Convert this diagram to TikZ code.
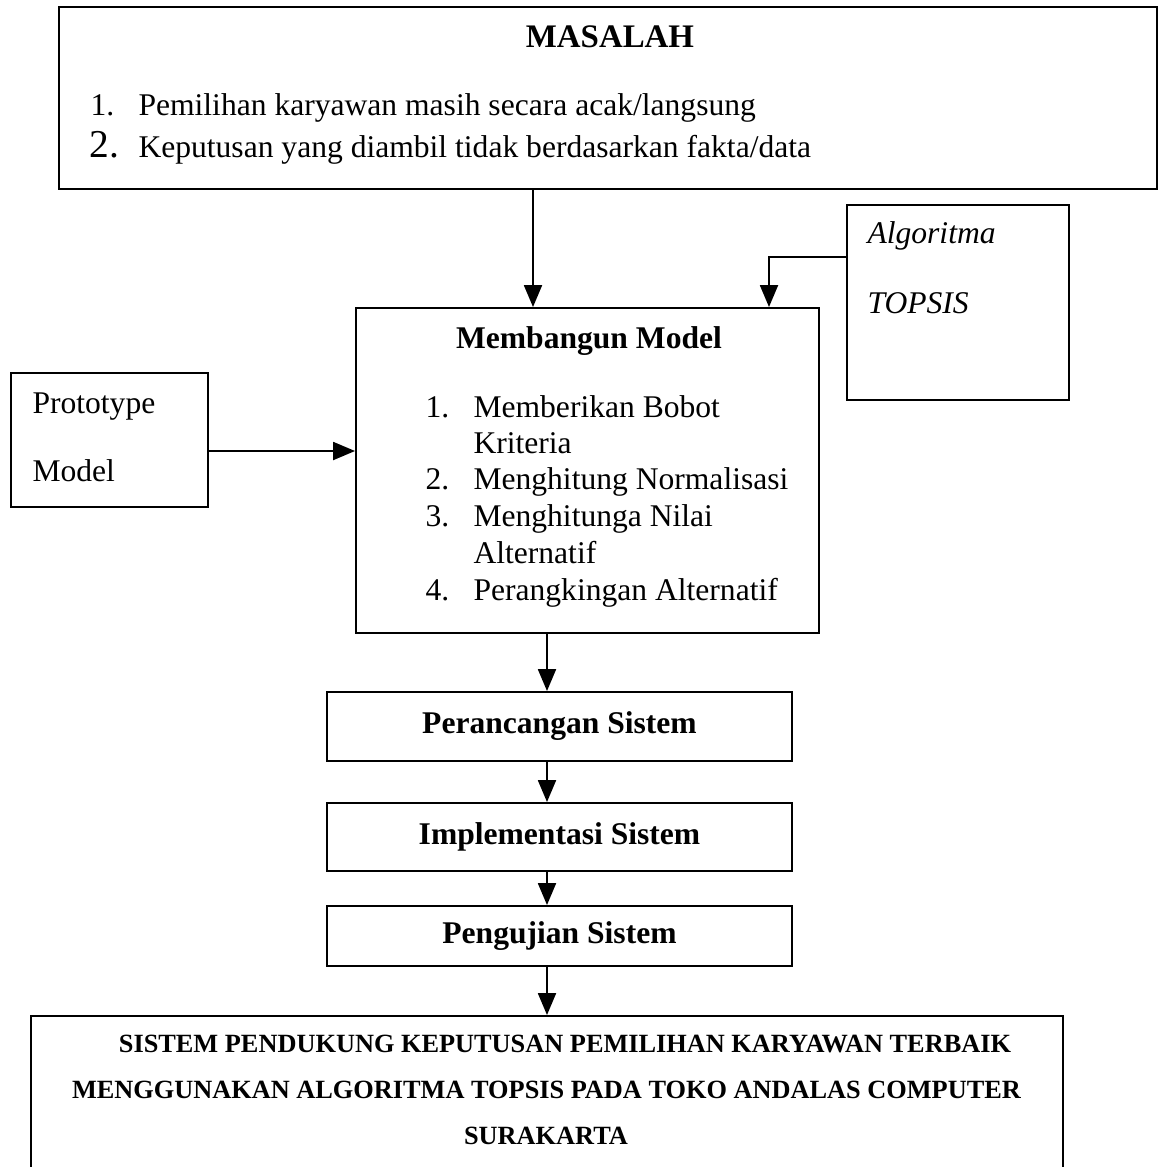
\documentclass[tikz,border=0pt]{standalone}
\usepackage{fontspec}
\setmainfont{Liberation Serif}
\usetikzlibrary{arrows}
\newcommand{\pxu}{0.38pt}
\tikzset{
	kotak/.style={draw,line width=0.8pt,inner sep=0pt},
	teks/.style={inner sep=0pt,anchor=base west,font=\fontsize{12}{14}\selectfont},
	judul/.style={inner sep=0pt,anchor=base,font=\fontsize{12}{14}\selectfont\bfseries},
	hasilteks/.style={inner sep=0pt,anchor=base,font=\fontsize{10}{12}\selectfont\bfseries},
	panah/.style={->,line width=0.9pt}
}

\begin{document}
\begin{tikzpicture}[line join=miter,>=triangle 45,x=0.38pt,y=-0.38pt]
		\useasboundingbox (0,0) rectangle (1160,1167);
		% kotak-kotak
		\node[kotak,minimum width=1098*\pxu,minimum height=182*\pxu] (masalah) at (608,98) {};
		\node[kotak,minimum width=222*\pxu,minimum height=195*\pxu] (algoritma) at (958,302.5) {};
		\node[kotak,minimum width=197*\pxu,minimum height=134*\pxu] (prototype) at (109.5,440) {};
		\node[kotak,minimum width=463*\pxu,minimum height=325*\pxu] (membangun) at (587.5,470.5) {};
		\node[kotak,minimum width=465*\pxu,minimum height=69*\pxu,font=\fontsize{12}{14}\selectfont\bfseries] (perancangan) at (559.5,726.5) {Perancangan Sistem};
		\node[kotak,minimum width=465*\pxu,minimum height=68*\pxu,font=\fontsize{12}{14}\selectfont\bfseries] (implementasi) at (559.5,837) {Implementasi Sistem};
		\node[kotak,minimum width=465*\pxu,minimum height=60*\pxu,font=\fontsize{12}{14}\selectfont\bfseries] (pengujian) at (559.5,936) {Pengujian Sistem};
		\node[kotak,minimum width=1032*\pxu,minimum height=244*\pxu] (hasil) at (547,1138) {};
		% isi masalah
		\node[judul,font=\fontsize{12.5}{14}\selectfont\bfseries] (tmasalah) at (610,47) {MASALAH};
		\node[teks] (no1) at (90,115) {1.};
		\node[teks] (m1) at (138,115) {Pemilihan karyawan masih secara acak/langsung};
		\node[teks,font=\fontsize{15}{16}\selectfont] (no2) at (89,157) {2.};
		\node[teks] (m2) at (138,157) {Keputusan yang diambil tidak berdasarkan fakta/data};
		% isi algoritma dan prototype
		\node[teks,font=\fontsize{12}{14}\selectfont\itshape] (talg) at (867,243) {Algoritma};
		\node[teks,font=\fontsize{12}{14}\selectfont\itshape] (ttopsis) at (867,313) {TOPSIS};
		\node[teks] (tproto) at (32,413) {Prototype};
		\node[teks] (tmodel) at (32,481) {Model};
		% isi membangun model
		\node[judul] (tmembangun) at (589,348) {Membangun Model};
		\node[teks] (b1) at (425,417) {1.};
		\node[teks] (c1) at (473,417) {Memberikan Bobot};
		\node[teks] (c1b) at (473,453) {Kriteria};
		\node[teks] (b2) at (425,489) {2.};
		\node[teks] (c2) at (473,489) {Menghitung Normalisasi};
		\node[teks] (b3) at (425,526) {3.};
		\node[teks] (c3) at (473,526) {Menghitunga Nilai};
		\node[teks] (c3b) at (473,563) {Alternatif};
		\node[teks] (b4) at (425,600) {4.};
		\node[teks] (c4) at (473,600) {Perangkingan Alternatif};
		% isi hasil
		\node[hasilteks] (h1) at (565,1052) {SISTEM PENDUKUNG KEPUTUSAN PEMILIHAN KARYAWAN TERBAIK};
		\node[hasilteks] (h2) at (546.5,1098) {MENGGUNAKAN ALGORITMA TOPSIS PADA TOKO ANDALAS COMPUTER};
		\node[hasilteks] (h3) at (546,1144) {SURAKARTA};
		% panah
		\draw[panah] (masalah.south -| 533,0) -- (membangun.north -| 533,0);
		\draw[panah] (algoritma.west |- 0,257) -| (membangun.north -| 769,0);
		\draw[panah] (prototype.east |- 0,451) -- (membangun.west |- 0,451);
		\draw[panah] (membangun.south -| 547,0) -- (perancangan.north -| 547,0);
		\draw[panah] (perancangan.south -| 547,0) -- (implementasi.north -| 547,0);
		\draw[panah] (implementasi.south -| 547,0) -- (pengujian.north -| 547,0);
		\draw[panah] (pengujian.south -| 547,0) -- (hasil.north -| 547,0);
\end{tikzpicture}
\end{document}
